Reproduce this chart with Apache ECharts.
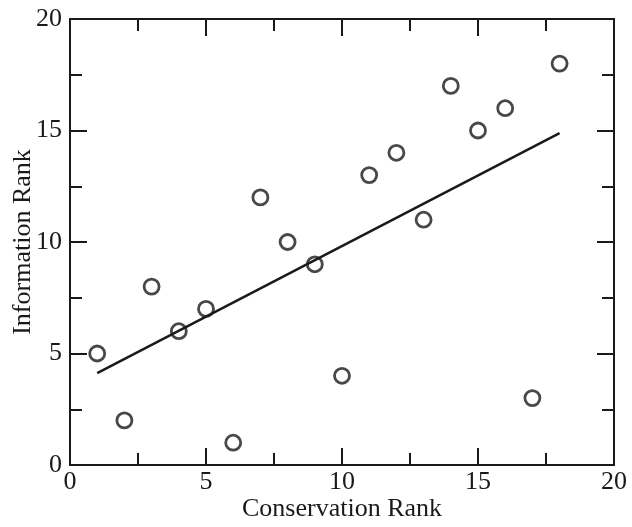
<!DOCTYPE html>
<html>
<head>
<meta charset="utf-8">
<script src="https://cdn.jsdelivr.net/npm/echarts@6/dist/echarts.min.js"></script>
<style>
    html, body { margin: 0; padding: 0; background: #fff; }
    #main { width: 632px; height: 527px; }
</style>
</head>
<body>
<div id="main"></div>
<script>
// conservation rank (x) vs information rank (y)
var conservationRank = [1, 2, 3, 4, 5, 6, 7, 8, 9, 10, 11, 12, 13, 14, 15, 16, 17, 18];
var informationRank = [5, 2, 8, 6, 7, 1, 12, 10, 9, 4, 13, 14, 11, 17, 15, 16, 3, 18];
// fitted line, end points
var fitX = [1, 18];
var fitY = [4.12, 14.88];

var points = [];
for (var i = 0; i < conservationRank.length; i++) {
    points.push([conservationRank[i], informationRank[i]]);
}
var fitLine = [];
for (var j = 0; j < fitX.length; j++) {
    fitLine.push([fitX[j], fitY[j]]);
}

var font = '"Liberation Serif", "DejaVu Serif", serif';
var ink = '#1a1a1a';

function frameAxis(pos, showLabels, name) {
    return {
        type: 'value',
        position: pos,
        min: 0,
        max: 20,
        interval: 5,
        name: name,
        nameLocation: 'middle',
        nameGap: (pos === 'left') ? 34 : 31,
        nameMoveOverlap: false,
        nameTextStyle: {
            fontFamily: font,
            fontSize: 26,
            color: ink
        },
        splitLine: { show: false },
        axisLine: {
            show: true,
            onZero: false,
            lineStyle: { color: ink, width: 2 }
        },
        axisTick: {
            show: true,
            inside: true,
            length: 17,
            lineStyle: { color: ink, width: 2 }
        },
        minorTick: {
            show: true,
            splitNumber: 2,
            length: 12,
            lineStyle: { color: ink, width: 2 }
        },
        axisLabel: {
            show: showLabels,
            margin: (pos === 'left') ? 8 : 4,
            fontFamily: font,
            fontSize: 26,
            color: ink,
            showMinLabel: true,
            showMaxLabel: true
        }
    };
}

var myChart = echarts.init(document.getElementById('main'), null, { renderer: 'canvas' });

var option = {
    backgroundColor: '#fff',
    animation: false,
    grid: {
        left: 70,
        right: 18,
        top: 19,
        bottom: 62,
        containLabel: false,
        outerBoundsMode: 'none'
    },
    xAxis: [
        frameAxis('bottom', true, 'Conservation Rank'),
        frameAxis('top', false, '')
    ],
    yAxis: [
        frameAxis('left', true, 'Information Rank'),
        frameAxis('right', false, '')
    ],
    series: [{
        type: 'line',
        data: fitLine,
        symbol: 'none',
        z: 2,
        lineStyle: { color: ink, width: 2.5 }
    }, {
        type: 'scatter',
        data: points,
        symbol: 'circle',
        symbolSize: 15,
        z: 3,
        itemStyle: {
            color: 'rgba(255,255,255,0)',
            borderColor: ink,
            borderWidth: 2.8
        }
    }]
};

if (option && typeof option === "object") {
    myChart.setOption(option);
}
</script>
</body>
</html>
